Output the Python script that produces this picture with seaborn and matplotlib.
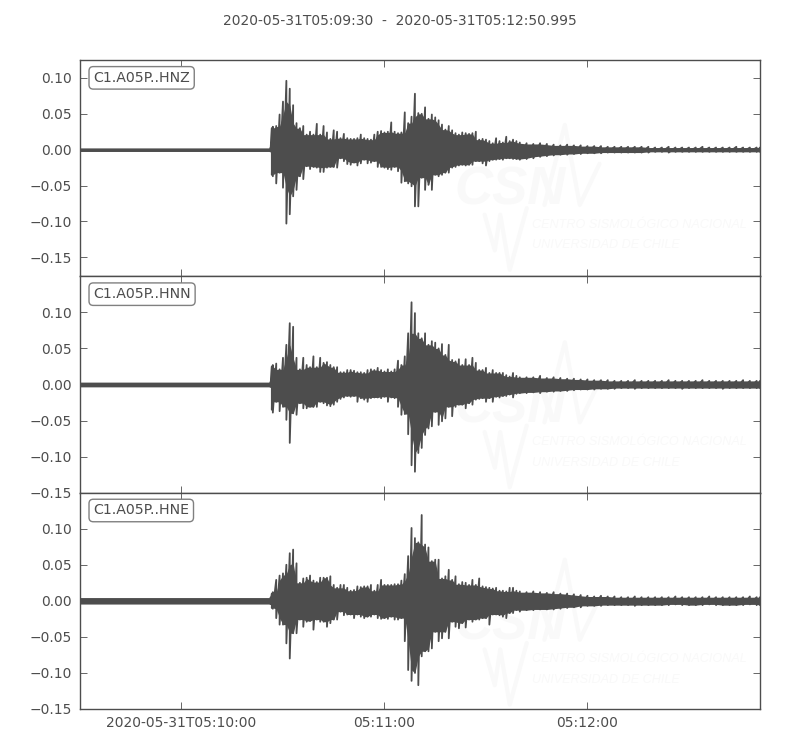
import matplotlib
matplotlib.use("Agg")
import matplotlib.pyplot as plt
import numpy as np
import pandas as pd
import seaborn as sns

TITLE = "2020-05-31T05:09:30  -  2020-05-31T05:12:50.995"
START = pd.Timestamp("2020-05-31T05:09:30")
END = pd.Timestamp("2020-05-31T05:12:50.995")
TICK_TIMES = ["2020-05-31T05:10:00", "2020-05-31T05:11:00", "2020-05-31T05:12:00"]
TICK_LABELS = ["2020-05-31T05:10:00", "05:11:00", "05:12:00"]
STATIONS = ["C1.A05P..HNZ", "C1.A05P..HNN", "C1.A05P..HNE"]
Y_TICKS = [0.10, 0.05, 0.00, -0.05, -0.10, -0.15]
Y_LIMITS = [(-0.1765, 0.125), (-0.15, 0.15), (-0.15, 0.15)]

SECONDS = [0, 10, 20, 30, 40, 50, 56.3, 56.7,
           57, 58, 59, 60, 61, 62, 63, 64, 65, 66,
           67, 68, 69, 70, 71, 72, 73, 74, 75, 76,
           77, 78, 79, 80, 81, 82, 83, 84, 85, 86,
           87, 88, 89, 90, 91, 92, 93, 94, 95, 96,
           97, 98, 99, 100, 101, 102, 103, 104, 105, 106,
           107, 108, 109, 110, 111, 112, 113, 114, 115, 116,
           117, 118, 119, 120, 121, 122, 123, 124, 125, 126,
           127, 128, 129,
           130, 132, 134, 136, 138, 140, 142, 144, 146, 148,
           150, 152, 154, 156, 158, 160, 162, 164, 166, 168,
           170, 172, 174, 176, 178, 180, 182, 184, 186, 188,
           190, 192, 194, 196, 198, 200, 200.995]

HNZ_UP = [.0025, .0025, .0025, .0025, .0025, .0025, .0025, .030,
          .032, .033, .049, .067, .096, .085, .062, .037, .030, .033,
          .021, .025, .021, .036, .021, .033, .024, .015, .027, .025,
          .016, .022, .016, .015, .015, .016, .021, .016, .015, .014,
          .021, .025, .026, .024, .025, .038, .025, .023, .024, .052,
          .037, .046, .078, .051, .050, .059, .043, .049, .045, .041,
          .035, .028, .033, .027, .023, .021, .024, .023, .022, .023,
          .025, .014, .015, .014, .012, .009, .016, .012, .010, .018,
          .012, .014, .012,
          .010, .009, .008, .009, .008, .007, .006, .007, .006, .006,
          .005, .005, .005, .004, .004, .004, .004, .004, .004, .004,
          .003, .003, .004, .003, .003, .003, .003, .004, .003, .003,
          .003, .003, .004, .003, .003, .003, .003]
HNZ_DOWN = [.0025, .0025, .0025, .0025, .0025, .0025, .0025, .035,
            .037, .047, .032, .053, .103, .090, .065, .056, .037, .041,
            .023, .027, .024, .025, .031, .031, .025, .024, .024, .025,
            .012, .016, .020, .021, .018, .022, .019, .014, .019, .018,
            .016, .024, .024, .025, .027, .028, .024, .030, .046, .044,
            .047, .051, .079, .079, .039, .056, .049, .056, .035, .037,
            .035, .032, .032, .025, .024, .022, .021, .022, .021, .021,
            .016, .016, .019, .022, .016, .014, .014, .013, .014, .012,
            .012, .013, .013,
            .014, .013, .012, .010, .009, .008, .007, .007, .006, .006,
            .005, .005, .005, .004, .004, .004, .004, .004, .004, .004,
            .003, .003, .004, .003, .003, .003, .003, .003, .003, .003,
            .003, .003, .003, .003, .003, .003, .003]

HNN_UP = [.0033, .0033, .0033, .0033, .0033, .0033, .0033, .025,
          .027, .029, .021, .037, .055, .085, .080, .037, .021, .037,
          .027, .024, .039, .024, .037, .030, .031, .027, .024, .024,
          .017, .017, .020, .020, .019, .017, .017, .016, .020, .021,
          .020, .023, .020, .018, .021, .018, .021, .033, .027, .039,
          .071, .114, .099, .071, .064, .071, .055, .060, .058, .050,
          .056, .041, .055, .034, .032, .035, .027, .035, .027, .037,
          .030, .020, .020, .023, .016, .020, .016, .016, .016, .013,
          .011, .016, .012,
          .010, .010, .010, .012, .009, .010, .009, .008, .008, .007,
          .007, .006, .006, .006, .005, .005, .005, .006, .005, .005,
          .005, .005, .006, .005, .005, .005, .005, .006, .005, .005,
          .005, .005, .005, .006, .005, .005, .005]
HNN_DOWN = [.0033, .0033, .0033, .0033, .0033, .0033, .0033, .035,
            .039, .024, .037, .031, .049, .081, .040, .042, .026, .033,
            .033, .031, .031, .031, .024, .026, .029, .030, .028, .024,
            .020, .018, .016, .017, .016, .024, .019, .021, .024, .019,
            .018, .018, .019, .017, .024, .018, .019, .031, .042, .041,
            .069, .112, .121, .095, .088, .070, .061, .058, .038, .056,
            .051, .047, .031, .044, .031, .028, .028, .033, .026, .028,
            .021, .020, .019, .024, .019, .024, .017, .018, .016, .016,
            .014, .018, .013,
            .012, .012, .011, .012, .010, .010, .009, .009, .008, .007,
            .007, .007, .006, .006, .006, .005, .005, .006, .005, .005,
            .005, .005, .005, .005, .006, .005, .005, .005, .005, .005,
            .006, .005, .005, .005, .005, .005, .005]

HNE_UP = [.0045, .0045, .0045, .0045, .0045, .0045, .0045, .010,
          .012, .029, .035, .038, .050, .066, .071, .052, .025, .031,
          .032, .035, .028, .026, .032, .032, .032, .034, .022, .018,
          .022, .022, .018, .014, .015, .020, .019, .020, .020, .022,
          .014, .022, .029, .022, .022, .022, .023, .023, .028, .037,
          .062, .101, .087, .081, .119, .078, .074, .055, .057, .057,
          .031, .034, .043, .029, .034, .023, .026, .025, .022, .029,
          .022, .031, .020, .019, .018, .017, .018, .014, .014, .013,
          .018, .018, .014,
          .013, .012, .013, .012, .011, .012, .010, .010, .009, .008,
          .007, .006, .007, .006, .006, .005, .005, .006, .005, .005,
          .005, .005, .005, .006, .005, .005, .005, .005, .006, .005,
          .005, .005, .005, .005, .006, .005, .005]
HNE_DOWN = [.0045, .0045, .0045, .0045, .0045, .0045, .0045, .010,
            .011, .024, .033, .033, .059, .080, .045, .045, .026, .036,
            .029, .028, .040, .026, .029, .029, .036, .031, .026, .026,
            .015, .020, .019, .019, .024, .019, .022, .024, .022, .022,
            .019, .024, .025, .024, .025, .022, .026, .026, .024, .056,
            .096, .111, .100, .117, .077, .070, .070, .066, .043, .056,
            .052, .043, .052, .029, .036, .038, .031, .037, .026, .029,
            .026, .026, .024, .024, .033, .019, .019, .020, .022, .024,
            .017, .017, .013,
            .015, .013, .013, .012, .012, .012, .011, .010, .009, .009,
            .007, .007, .007, .006, .006, .006, .006, .007, .006, .006,
            .006, .006, .006, .005, .006, .006, .006, .006, .005, .006,
            .006, .006, .006, .006, .005, .006, .006]

UPPER = [HNZ_UP, HNN_UP, HNE_UP]
LOWER = [HNZ_DOWN, HNN_DOWN, HNE_DOWN]
QUIET_POINTS = 6  # flat samples before the onset, drawn as the solid band only

WATERMARK_TOP = "CENTRO SISMOLÓGICO NACIONAL"
WATERMARK_BOTTOM = "UNIVERSIDAD DE CHILE"
WATERMARK_SHIFT = [0.0, -0.005, -0.01]
LOGO_X = [0.595, 0.610, 0.618, 0.632, 0.657]
LOGO_Y = [0.285, 0.12, 0.285, 0.03, 0.315]
PEAK_X = [0.683, 0.713, 0.735, 0.764]
PEAK_Y = [0.33, 0.70, 0.33, 0.52]

INK = "#4d4d4d"
PALE = "#f9f9f9"

sns.set_theme(style="ticks", rc={
    "axes.edgecolor": INK, "axes.linewidth": 1.0,
    "xtick.direction": "in", "ytick.direction": "in",
    "xtick.top": True, "ytick.right": True,
    "xtick.color": INK, "ytick.color": INK,
    "xtick.major.size": 5, "ytick.major.size": 5,
    "xtick.major.width": 0.6, "ytick.major.width": 0.6,
    "xtick.labelsize": 10, "ytick.labelsize": 10,
    "text.color": INK,
})
plt.rcParams["font.family"] = ["DejaVu Sans"]

fig, axes = plt.subplots(3, 1, figsize=(8, 7.5), dpi=100, sharex=True)
fig.subplots_adjust(left=0.1, right=0.95, top=0.92, bottom=0.0547, hspace=0)

times = START + pd.to_timedelta(SECONDS, unit="s")
x_zig = np.repeat(times.values, 2)[2 * QUIET_POINTS:]
ticks = pd.to_datetime(TICK_TIMES)

for i, ax in enumerate(axes):
    up = np.array(UPPER[i])
    down = -np.array(LOWER[i])
    y_zig = np.column_stack([up, down]).ravel()[2 * QUIET_POINTS:]

    shift = WATERMARK_SHIFT[i]
    ax.text(0.55, 0.33 + shift, "CSN", transform=ax.transAxes, fontsize=38,
            style="italic", weight="bold", family="Liberation Sans",
            color=PALE, zorder=0)
    ax.text(0.665, 0.225 + shift, WATERMARK_TOP, transform=ax.transAxes, fontsize=9.1,
            style="italic", family="Liberation Sans", color=PALE, zorder=0)
    ax.text(0.665, 0.13 + shift, WATERMARK_BOTTOM, transform=ax.transAxes, fontsize=9.1,
            style="italic", family="Liberation Sans", color=PALE, zorder=0)
    ax.plot(LOGO_X, np.array(LOGO_Y) + shift, transform=ax.transAxes, color=PALE, lw=3, zorder=0)
    ax.plot(PEAK_X, np.array(PEAK_Y) + shift, transform=ax.transAxes, color=PALE, lw=3, zorder=0)

    # solid core of the trace, then the spiky extremes as one continuous line
    core_up = pd.Series(up).rolling(3, center=True, min_periods=1).min().to_numpy()
    core_down = pd.Series(down).rolling(3, center=True, min_periods=1).max().to_numpy()
    ax.fill_between(times, core_down, core_up, color=INK, lw=0, zorder=2)
    sns.lineplot(x=x_zig, y=y_zig, sort=False, estimator=None, errorbar=None,
                 color=INK, lw=1.3, ax=ax, zorder=3)

    ax.set_xlim(START, END)
    ax.set_ylim(*Y_LIMITS[i])
    ax.set_yticks(Y_TICKS)
    ax.set_yticklabels([f"{v:.2f}".replace("-", "\u2212") for v in Y_TICKS])
    ax.set_xticks(ticks)
    ax.set_xticklabels(TICK_LABELS)
    ax.set_xlabel("")
    ax.set_ylabel("")
    ax.tick_params(axis="y", pad=6)
    ax.tick_params(axis="x", pad=5)
    ax.text(0.0195, 0.9175, STATIONS[i], transform=ax.transAxes, fontsize=10.2,
            ha="left", va="center", color=INK, zorder=5,
            bbox=dict(boxstyle="round,pad=0.3", fc="white", ec="#808080", lw=1))

fig.suptitle(TITLE, x=0.5, y=0.9715, fontsize=10, color=INK, va="center")
fig.savefig("out.png", dpi=100)
